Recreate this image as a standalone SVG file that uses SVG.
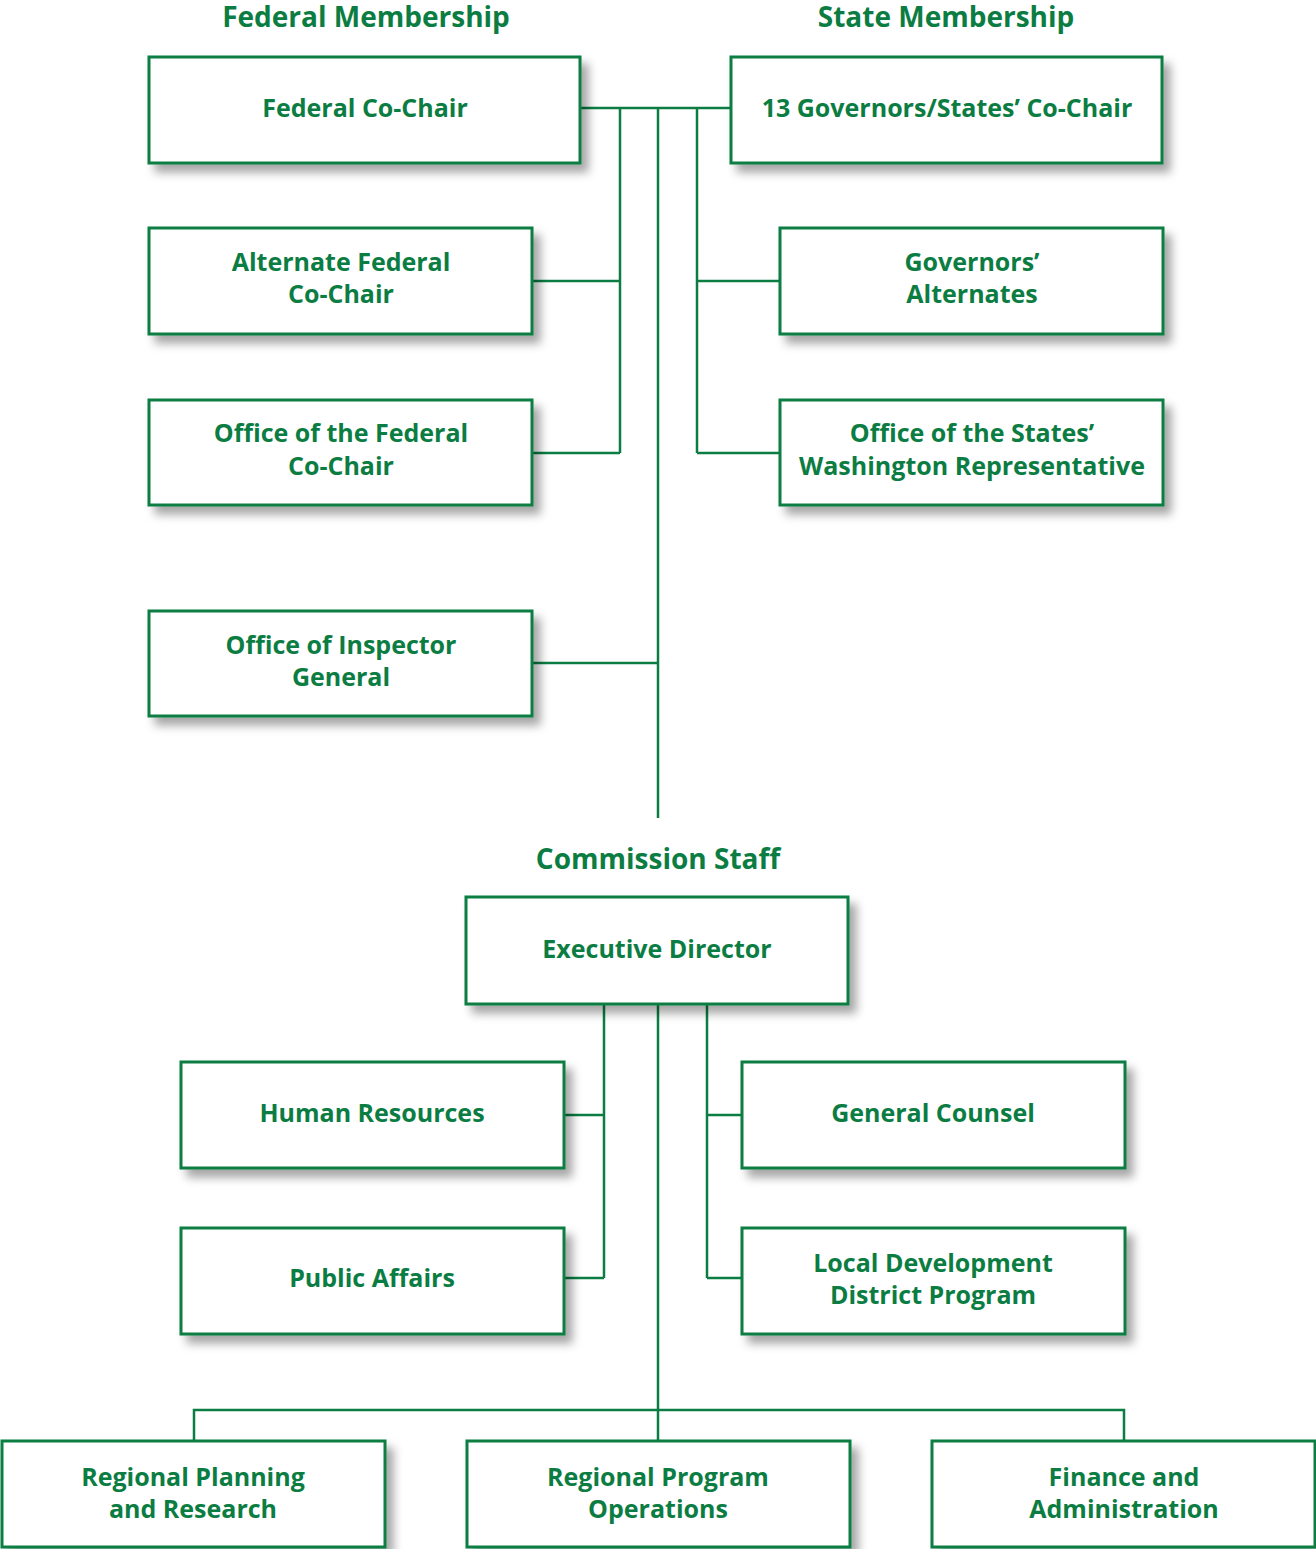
<svg xmlns="http://www.w3.org/2000/svg" width="1316" height="1549" viewBox="0 0 1316 1549">
<defs>
<filter id="sh" x="-10%" y="-10%" width="130%" height="140%">
<feDropShadow dx="7" dy="8" stdDeviation="5" flood-color="#000" flood-opacity="0.35"/>
</filter>
</defs>
<style>
.box{fill:#fff;stroke:#0b7d43;stroke-width:3;filter:url(#sh)}
.t{font-family:"Open Sans","Noto Sans",sans-serif;font-weight:bold;font-size:25px;fill:#0b7d43;text-anchor:middle}
.h{font-family:"Open Sans","Noto Sans",sans-serif;font-weight:bold;font-size:28px;fill:#0b7d43;text-anchor:middle}
.c{fill:none;stroke:#0b7d43;stroke-width:2.5}
</style>
<rect width="1316" height="1549" fill="#fff"/>
<text class="h" x="366" y="27">Federal Membership</text>
<text class="h" x="946" y="27">State Membership</text>
<text class="h" x="658" y="869">Commission Staff</text>
<g id="connectors">
<path class="c" d="M580 108H731M620 108V453M658 108V818M697 108V453M532 281H620M532 453H620M697 281H780M697 453H780M532 663H658"/>
<path class="c" d="M604 1004V1278M658 1004V1441M707 1004V1278M564 1115H604M564 1278H604M707 1115H742M707 1278H742M194 1441V1410H1124V1441"/>
</g>
<g id="federal-co-chair"><rect class="box" x="149" y="57" width="431" height="106"/><text class="t" x="365" y="117">Federal Co-Chair</text></g>
<g id="governors-co-chair"><rect class="box" x="731" y="57" width="431" height="106"/><text class="t" x="947" y="117">13 Governors/States’ Co-Chair</text></g>
<g id="alt-federal"><rect class="box" x="149" y="228" width="383" height="106"/><text class="t" x="341" y="271">Alternate Federal</text><text class="t" x="341" y="303">Co-Chair</text></g>
<g id="gov-alternates"><rect class="box" x="780" y="228" width="383" height="106"/><text class="t" x="972" y="271">Governors’</text><text class="t" x="972" y="303">Alternates</text></g>
<g id="office-federal"><rect class="box" x="149" y="400" width="383" height="105"/><text class="t" x="341" y="442">Office of the Federal</text><text class="t" x="341" y="475">Co-Chair</text></g>
<g id="office-states"><rect class="box" x="780" y="400" width="383" height="105"/><text class="t" x="972" y="442">Office of the States’</text><text class="t" x="972" y="475">Washington Representative</text></g>
<g id="inspector-general"><rect class="box" x="149" y="611" width="383" height="105"/><text class="t" x="341" y="654">Office of Inspector</text><text class="t" x="341" y="686">General</text></g>
<g id="executive-director"><rect class="box" x="466" y="897" width="382" height="107"/><text class="t" x="657" y="958">Executive Director</text></g>
<g id="human-resources"><rect class="box" x="181" y="1062" width="383" height="106"/><text class="t" x="372" y="1122">Human Resources</text></g>
<g id="general-counsel"><rect class="box" x="742" y="1062" width="383" height="106"/><text class="t" x="933" y="1122">General Counsel</text></g>
<g id="public-affairs"><rect class="box" x="181" y="1228" width="383" height="106"/><text class="t" x="372" y="1287">Public Affairs</text></g>
<g id="local-development"><rect class="box" x="742" y="1228" width="383" height="106"/><text class="t" x="933" y="1272">Local Development</text><text class="t" x="933" y="1304">District Program</text></g>
<g id="regional-planning"><rect class="box" x="2" y="1441" width="383" height="106"/><text class="t" x="193" y="1486">Regional Planning</text><text class="t" x="193" y="1518">and Research</text></g>
<g id="regional-program"><rect class="box" x="467" y="1441" width="383" height="106"/><text class="t" x="658" y="1486">Regional Program</text><text class="t" x="658" y="1518">Operations</text></g>
<g id="finance"><rect class="box" x="932" y="1441" width="383" height="106"/><text class="t" x="1124" y="1486">Finance and</text><text class="t" x="1124" y="1518">Administration</text></g>
</svg>
